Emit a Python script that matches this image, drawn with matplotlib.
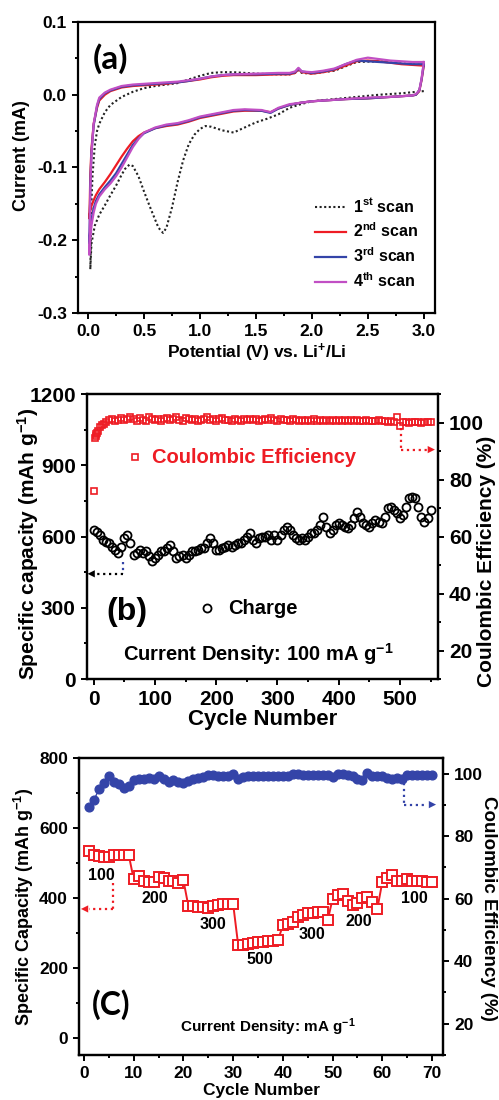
import matplotlib
matplotlib.use("Agg")
import matplotlib.pyplot as plt
from matplotlib.ticker import MultipleLocator, FormatStrFormatter

plt.rcParams['font.family'] = ['Liberation Sans', 'DejaVu Sans']
plt.rcParams['font.weight'] = 'bold'
plt.rcParams['axes.labelweight'] = 'bold'
plt.rcParams['axes.unicode_minus'] = False
plt.rcParams['mathtext.fontset'] = 'custom'
plt.rcParams['mathtext.rm'] = 'Liberation Sans:bold'
plt.rcParams['mathtext.it'] = 'Liberation Sans:bold'
plt.rcParams['mathtext.bf'] = 'Liberation Sans:bold'
plt.rcParams['axes.linewidth'] = 1.6

#(a) cyclic voltammetry
scan1_potential = [3.0, 2.8, 2.6, 2.4, 2.2, 2.0, 1.9, 1.8, 1.7, 1.6,
                   1.5, 1.4, 1.3, 1.2, 1.1, 1.05, 1.0, 0.95, 0.9, 0.85,
                   0.8, 0.75, 0.7, 0.67, 0.63, 0.6, 0.55, 0.5, 0.45, 0.4,
                   0.37, 0.33, 0.3, 0.25, 0.2, 0.15, 0.1, 0.06, 0.03, 0.02,
                   0.025, 0.03, 0.04, 0.06, 0.08, 0.1, 0.15, 0.2, 0.3, 0.4,
                   0.5, 0.6, 0.7, 0.8, 0.9, 1.0, 1.1, 1.2, 1.3, 1.4,
                   1.5, 1.7, 1.8, 1.85, 1.88, 1.91, 2.0, 2.2, 2.4, 2.6,
                   2.8, 3.0]
scan1_current = [0.005, 0.002, 0.000, -0.003, -0.006, -0.009, -0.013, -0.018, -0.027, -0.033,
                 -0.038, -0.045, -0.052, -0.049, -0.044, -0.043, -0.047, -0.055, -0.068, -0.090,
                 -0.120, -0.155, -0.183, -0.190, -0.183, -0.172, -0.153, -0.133, -0.112, -0.098,
                 -0.096, -0.102, -0.110, -0.125, -0.138, -0.152, -0.165, -0.180, -0.205, -0.240,
                 -0.200, -0.150, -0.110, -0.070, -0.050, -0.040, -0.024, -0.014, -0.003, 0.004,
                 0.009, 0.012, 0.014, 0.016, 0.021, 0.026, 0.030, 0.031, 0.031, 0.030,
                 0.029, 0.028, 0.028, 0.030, 0.034, 0.030, 0.029, 0.033, 0.045, 0.046,
                 0.043, 0.041]

#scans 2-4 share one potential grid (cathodic sweep then anodic sweep)
cv_potential = [3.0, 2.98, 2.96, 2.93, 2.9, 2.7, 2.5, 2.3, 2.1, 2.0,
                1.9, 1.8, 1.7, 1.63, 1.55, 1.4, 1.3, 1.2, 1.1, 1.0,
                0.9, 0.8, 0.7, 0.6, 0.5, 0.45, 0.4, 0.35, 0.3, 0.25,
                0.2, 0.15, 0.1, 0.07, 0.05, 0.03, 0.02, 0.01,
                0.015, 0.02, 0.03, 0.05, 0.08, 0.1, 0.15, 0.2, 0.3, 0.4,
                0.5, 0.6, 0.7, 0.8, 0.9, 1.0, 1.1, 1.2, 1.3, 1.5,
                1.7, 1.8, 1.85, 1.88, 1.91, 2.0, 2.1, 2.2, 2.3, 2.4,
                2.5, 2.6, 2.7, 2.8, 2.9, 3.0]
scan2_current = [0.040, 0.020, 0.005, 0.000, -0.001, -0.003, -0.005, -0.006, -0.008, -0.009,
                 -0.011, -0.014, -0.019, -0.024, -0.022, -0.022, -0.023, -0.026, -0.029, -0.032,
                 -0.037, -0.041, -0.043, -0.046, -0.052, -0.057, -0.064, -0.074, -0.085, -0.097,
                 -0.109, -0.120, -0.130, -0.138, -0.145, -0.153, -0.160, -0.170,
                 -0.150, -0.110, -0.075, -0.040, -0.018, -0.008, 0.000, 0.005, 0.010, 0.012,
                 0.013, 0.014, 0.015, 0.017, 0.019, 0.021, 0.024, 0.026, 0.027, 0.027,
                 0.028, 0.028, 0.030, 0.035, 0.031, 0.029, 0.031, 0.034, 0.040, 0.046,
                 0.047, 0.046, 0.044, 0.042, 0.041, 0.040]
scan3_current = [0.042, 0.021, 0.006, 0.000, -0.001, -0.003, -0.005, -0.006, -0.008, -0.009,
                 -0.011, -0.014, -0.019, -0.025, -0.022, -0.021, -0.022, -0.025, -0.028, -0.031,
                 -0.036, -0.040, -0.042, -0.046, -0.053, -0.060, -0.069, -0.082, -0.095, -0.108,
                 -0.118, -0.127, -0.137, -0.146, -0.156, -0.172, -0.185, -0.205,
                 -0.175, -0.125, -0.080, -0.042, -0.016, -0.006, 0.002, 0.006, 0.011, 0.013,
                 0.014, 0.015, 0.016, 0.017, 0.019, 0.022, 0.025, 0.027, 0.028, 0.028,
                 0.029, 0.029, 0.031, 0.036, 0.032, 0.030, 0.032, 0.035, 0.042, 0.047,
                 0.046, 0.045, 0.044, 0.043, 0.042, 0.042]
scan4_current = [0.045, 0.022, 0.006, 0.001, -0.001, -0.003, -0.004, -0.006, -0.008, -0.009,
                 -0.011, -0.013, -0.018, -0.024, -0.021, -0.020, -0.021, -0.024, -0.027, -0.030,
                 -0.035, -0.039, -0.041, -0.045, -0.052, -0.061, -0.072, -0.086, -0.100, -0.112,
                 -0.122, -0.130, -0.140, -0.150, -0.162, -0.180, -0.198, -0.220,
                 -0.185, -0.130, -0.082, -0.040, -0.014, -0.004, 0.003, 0.007, 0.012, 0.014,
                 0.015, 0.016, 0.017, 0.018, 0.020, 0.022, 0.025, 0.027, 0.028, 0.029,
                 0.030, 0.030, 0.032, 0.037, 0.032, 0.031, 0.033, 0.036, 0.042, 0.048,
                 0.051, 0.049, 0.047, 0.046, 0.045, 0.045]

#(b) long cycling at 100 mA/g
charge_cycles = [1] + list(range(5, 551, 5))
charge_capacity = [628, 621, 607, 586, 579, 572, 558, 544, 530, 558,
                   593, 607, 572, 523, 530, 544, 530, 537, 516, 495,
                   509, 523, 537, 537, 551, 565, 537, 509, 516, 523,
                   509, 523, 537, 537, 544, 551, 551, 572, 593, 572,
                   544, 544, 551, 558, 565, 558, 565, 572, 572, 586,
                   600, 614, 586, 572, 593, 600, 600, 607, 586, 607,
                   586, 607, 628, 642, 628, 607, 593, 586, 593, 586,
                   600, 614, 614, 628, 649, 684, 642, 614, 628, 649,
                   656, 649, 642, 635, 649, 677, 705, 684, 656, 649,
                   642, 656, 670, 663, 656, 684, 719, 726, 712, 698,
                   677, 691, 726, 761, 768, 761, 726, 684, 663, 677,
                   712]
ce_cycles = [1, 2, 3, 4, 5, 7, 10, 13, 16, 20] + list(range(25, 551, 5))
ce_values = [76.0, 94.5, 95.2, 95.8, 96.3, 97.2, 98.3, 99.0, 99.6, 100.3,
             100.8, 101.3, 100.6, 101.0, 101.6, 100.9, 101.4, 102.0, 101.1, 100.7,
             101.5, 101.0, 100.6, 101.8, 101.2, 100.8, 101.4, 100.7, 101.1, 101.6,
             100.9, 101.3, 102.0, 101.0, 100.6, 101.5, 101.1, 100.8, 101.3, 100.7,
             101.0, 101.4, 101.8, 100.8, 101.2, 100.6, 101.1, 101.5, 100.9, 101.0,
             100.7, 101.3, 101.0, 100.6, 101.2, 100.9, 101.4, 100.8, 101.1, 100.7,
             101.0, 101.3, 100.8, 101.6, 100.9, 100.6, 101.2, 100.8, 101.0, 100.7,
             101.1, 100.8, 100.5, 101.0, 100.7, 100.9, 100.6, 101.1, 100.4, 100.8,
             100.5, 100.9, 100.6, 100.8, 100.5, 101.0, 100.7, 100.9, 100.4, 100.8,
             100.6, 100.9, 100.5, 100.7, 100.8, 100.4, 100.7, 100.6, 100.9, 100.5,
             100.6, 100.3, 100.5, 100.2, 101.8, 98.8, 100.1, 100.3, 100.0, 100.2,
             100.1, 100.3, 100.0, 100.2, 100.1, 100.3]

#(c) rate performance
rate_cycles = list(range(1, 71))
rate_capacity = [533, 522, 520, 517, 518, 522, 523, 523, 523, 453,
                 462, 447, 446, 444, 459, 457, 447, 447, 442, 450,
                 376, 376, 373, 375, 371, 377, 379, 381, 381, 382,
                 266, 264, 268, 270, 272, 274, 275, 276, 278, 321,
                 326, 331, 344, 351, 356, 357, 358, 358, 335, 397,
                 407, 410, 390, 378, 384, 398, 403, 389, 369, 446,
                 458, 465, 448, 447, 455, 448, 447, 448, 445, 446]
rate_ce = [89.3, 91.5, 95.0, 96.9, 99.3, 97.4, 96.6, 95.4, 96.0, 97.9,
           98.3, 98.3, 98.7, 98.4, 99.3, 98.4, 97.4, 98.0, 97.4, 97.1,
           97.6, 98.2, 98.7, 98.9, 99.7, 99.6, 99.3, 99.1, 99.1, 99.9,
           98.2, 98.9, 99.1, 99.3, 99.3, 99.3, 99.3, 99.3, 99.3, 99.3,
           99.3, 100.0, 99.9, 99.5, 99.5, 99.5, 99.5, 99.5, 99.5, 98.9,
           100.0, 99.8, 99.7, 99.4, 98.4, 98.0, 100.1, 99.3, 99.3, 99.1,
           98.7, 98.4, 98.5, 98.4, 99.6, 99.5, 99.5, 99.6, 99.5, 99.5]
rate_labels = ['100', '200', '300', '500', '300', '200', '100']
rate_label_x = [3.5, 14.2, 26.0, 35.3, 45.9, 55.3, 66.5]
rate_label_y = [465, 398, 323, 222, 296, 331, 398]

red = '#ee1c24'
blue = '#3444a8'
magenta = '#c14fc4'


def style_ticks(ax, size):
    ax.tick_params(which='both', direction='out', width=1.4, labelsize=size)
    ax.tick_params(which='major', length=4.5)
    ax.tick_params(which='minor', length=2.5)


def head(ax, tip, tail, color):
    ax.annotate('', xy=tip, xytext=tail,
                arrowprops=dict(arrowstyle='-|>', color=color, lw=0,
                                mutation_scale=13, shrinkA=0, shrinkB=0))


fig = plt.figure(figsize=(4.99, 11), dpi=100)

#panel (a)
ax = fig.add_axes([0.1563, 0.7155, 0.7154, 0.2645])
ax.plot(scan1_potential, scan1_current, color='#222222', ls=(0, (1, 1.2)), lw=1.5,
        label='1$^{st}$ scan')
ax.plot(cv_potential, scan2_current, color=red, lw=1.6, label='2$^{nd}$ scan')
ax.plot(cv_potential, scan3_current, color=blue, lw=1.6, label='3$^{rd}$ scan')
ax.plot(cv_potential, scan4_current, color=magenta, lw=1.6, label='4$^{th}$ scan')
ax.set_xlim(-0.09, 3.1)
ax.set_ylim(-0.3, 0.1)
ax.xaxis.set_major_locator(MultipleLocator(0.5))
ax.xaxis.set_minor_locator(MultipleLocator(0.25))
ax.yaxis.set_major_locator(MultipleLocator(0.1))
ax.yaxis.set_minor_locator(MultipleLocator(0.05))
ax.xaxis.set_major_formatter(FormatStrFormatter('%.1f'))
ax.yaxis.set_major_formatter(FormatStrFormatter('%.1f'))
style_ticks(ax, 12.5)
ax.set_xlabel('Potential (V) vs. Li$^{+}$/Li', fontsize=12.5, labelpad=2)
fig.text(22 / 499, 1 - 156 / 1100, 'Current (mA)', fontsize=13, rotation=90,
         ha='center', va='center')
ax.text(0.2, 0.05, '(a)', fontsize=24, fontweight='bold', family='Lato',
        ha='center', va='center')
ax.legend(loc='lower right', bbox_to_anchor=(0.975, 0.05), frameon=False,
          fontsize=11.5, handlelength=2.0, handletextpad=0.4, labelspacing=0.4,
          borderpad=0)

#panel (b)
ax = fig.add_axes([0.1743, 0.3827, 0.7034, 0.2591])
ax2 = ax.twinx()
ax.plot(charge_cycles, charge_capacity, ls='none', marker='o', ms=5.8, mfc='none',
        mec='black', mew=1.3)
ax2.plot(ce_cycles, ce_values, ls='none', marker='s', ms=4.8, mfc='none',
         mec=red, mew=1.2)
ax.set_xlim(-11, 562)
ax.set_ylim(0, 1200)
ax2.set_ylim(10, 110)
ax.xaxis.set_major_locator(MultipleLocator(100))
ax.xaxis.set_minor_locator(MultipleLocator(50))
ax.yaxis.set_major_locator(MultipleLocator(300))
ax.yaxis.set_minor_locator(MultipleLocator(150))
ax2.set_yticks([20, 40, 60, 80, 100])
ax2.yaxis.set_minor_locator(MultipleLocator(10))
style_ticks(ax, 15)
style_ticks(ax2, 15)
ax.set_xlabel('Cycle Number', fontsize=16, labelpad=0)
fig.text(28 / 499, 1 - 544 / 1100, 'Specific capacity (mAh g$^{-1}$)', fontsize=15,
         rotation=90, ha='center', va='center')
fig.text(487 / 499, 1 - 561 / 1100, 'Coulombic Efficiency (%)', fontsize=15,
         rotation=90, ha='center', va='center')
#arrows pointing to the axes
ax.plot([48, 48], [491, 443], color=blue, ls=':', lw=1.6)
ax.plot([48, -3], [443, 443], color='black', ls=':', lw=1.6)
head(ax, (-10, 443), (-2, 443), 'black')
ax2.plot([502, 502], [98, 90.5], color=red, ls=':', lw=1.6)
ax2.plot([502, 548], [90.5, 90.5], color=red, ls=':', lw=1.6)
head(ax2, (557, 90.5), (547, 90.5), red)
#in-plot key and captions
ax.plot([0.137], [0.779], transform=ax.transAxes, marker='s', ms=4.8, mfc='none',
        mec=red, mew=1.2)
ax.text(0.185, 0.779, 'Coulombic Efficiency', transform=ax.transAxes, color=red,
        fontsize=14.5, ha='left', va='center')
ax.plot([0.342], [0.249], transform=ax.transAxes, marker='o', ms=5.8, mfc='none',
        mec='black', mew=1.3)
ax.text(0.403, 0.249, 'Charge', transform=ax.transAxes, fontsize=14.5,
        ha='left', va='center')
ax.text(0.114, 0.235, '(b)', transform=ax.transAxes, fontsize=23,
        ha='center', va='center')
ax.text(0.487, 0.088, 'Current Density: 100 mA g$^{-1}$', transform=ax.transAxes,
        fontsize=14.5, ha='center', va='center')

#panel (c)
ax = fig.add_axes([0.1583, 0.0409, 0.7295, 0.27])
ax2 = ax.twinx()
ax.plot(rate_cycles, rate_capacity, color=red, lw=1.4, marker='s', ms=6.5,
        mfc='white', mec=red, mew=1.4)
ax2.plot(rate_cycles, rate_ce, color=blue, lw=1.0, marker='o', ms=6.3,
         mfc=blue, mec=blue)
ax.set_xlim(-1, 72.2)
ax.set_ylim(-50, 800)
ax2.set_ylim(10, 105)
ax.xaxis.set_major_locator(MultipleLocator(10))
ax.xaxis.set_minor_locator(MultipleLocator(5))
ax.yaxis.set_major_locator(MultipleLocator(200))
ax.yaxis.set_minor_locator(MultipleLocator(100))
ax2.set_yticks([20, 40, 60, 80, 100])
ax2.yaxis.set_minor_locator(MultipleLocator(10))
style_ticks(ax, 12.5)
style_ticks(ax2, 12.5)
for x, y, s in zip(rate_label_x, rate_label_y, rate_labels):
    ax.text(x, y, s, fontsize=11.5, ha='center', va='center')
ax.set_xlabel('Cycle Number', fontsize=12.5, labelpad=1)
fig.text(24 / 499, 1 - 907 / 1100, 'Specific Capacity (mAh g$^{-1}$)', fontsize=13,
         rotation=90, ha='center', va='center')
fig.text(488 / 499, 1 - 908 / 1100, 'Coulombic Efficiency (%)', fontsize=13.5,
         rotation=270, ha='center', va='center')
ax.plot([5.8, 5.8], [443, 368], color=red, ls=':', lw=1.6)
ax.plot([5.8, 1.0], [368, 368], color=red, ls=':', lw=1.6)
head(ax, (-0.6, 368), (1.2, 368), red)
ax2.plot([64.3, 64.3], [97.1, 90.1], color=blue, ls=':', lw=1.6)
ax2.plot([64.3, 69.0], [90.1, 90.1], color=blue, ls=':', lw=1.6)
head(ax2, (70.8, 90.1), (68.8, 90.1), blue)
ax.text(5.5, 93, '(C)', fontsize=23, family='Lato', fontweight='bold',
        ha='center', va='center')
ax.text(37, 31, 'Current Density: mA g$^{-1}$', fontsize=11,
        ha='center', va='center')

fig.savefig('out.png', dpi=100)
